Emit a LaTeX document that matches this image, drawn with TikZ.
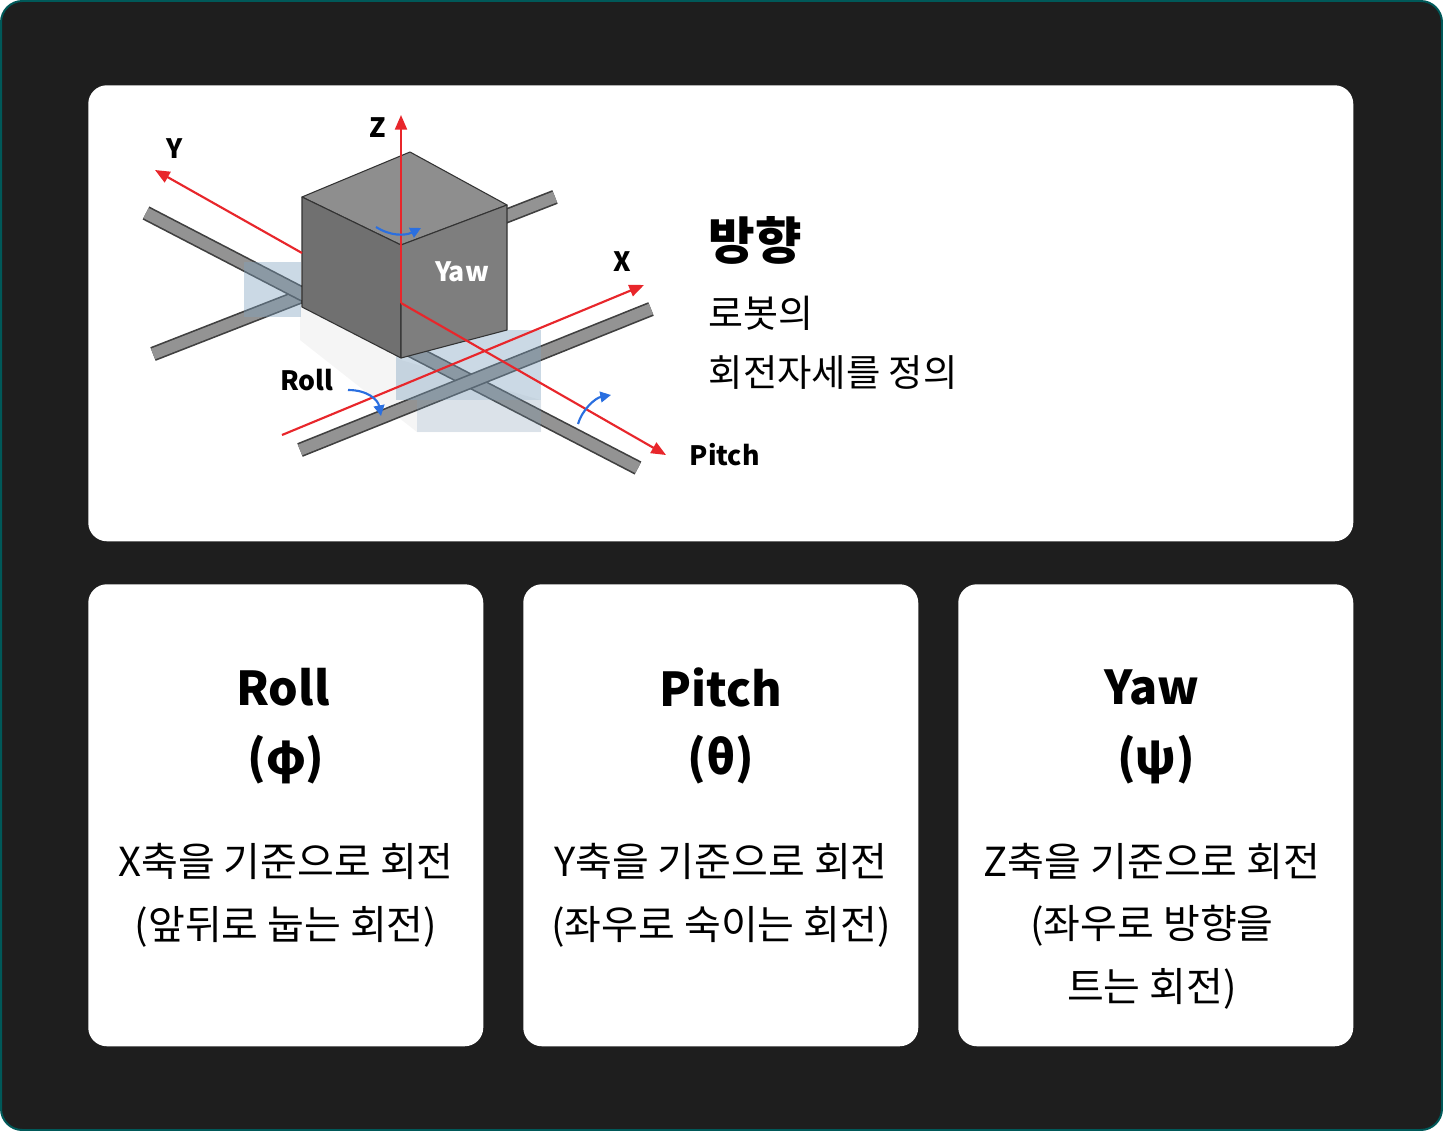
\documentclass[tikz,border=0pt]{standalone}
\usepackage{fontspec}
\setmainfont{Noto Sans CJK KR}
\usetikzlibrary{arrows.meta}
\definecolor{bgdark}{HTML}{1E1E1E}
\definecolor{axred}{HTML}{E8262B}
\definecolor{arblue}{HTML}{2A6FE0}
\definecolor{ctop}{HTML}{8E8E8E}
\definecolor{cleft}{HTML}{707070}
\definecolor{cright}{HTML}{7E7E7E}
\definecolor{shad}{HTML}{7FA2BF}
\tikzset{
 card/.style={fill=white,rounded corners=14pt},
 bar/.style={line width=11pt,line cap=butt,draw=black!75},
 barin/.style={line width=8.5pt,line cap=butt,draw=gray!85},
 axis/.style={draw=axred,line width=1.6pt,-{Triangle[length=11pt,width=9pt]}},
 rot/.style={draw=arblue,line width=1.6pt,-{Triangle[length=8pt,width=8pt]}},
 lbl/.style={font=\bfseries\fontsize{20}{24}\selectfont},
 ttl/.style={font=\bfseries\fontsize{35}{40}\selectfont},
 body/.style={font=\fontsize{30}{47}\selectfont,align=center},
}
\begin{document}
\begin{tikzpicture}[x=0.75pt,y=-0.75pt]
\useasboundingbox (0,0) rectangle (1443,1131);
\fill[draw=teal!70!black,line width=1.5pt,fill=bgdark,rounded corners=16pt] (1,1) rectangle (1442,1130);
\node[card,minimum width=1265*0.75pt,minimum height=456*0.75pt,anchor=north west] (top) at (88,85) {};
\node[card,minimum width=395*0.75pt,minimum height=462*0.75pt,anchor=north west] (c1) at (88,584) {};
\node[card,minimum width=395*0.75pt,minimum height=462*0.75pt,anchor=north west] (c2) at (523,584) {};
\node[card,minimum width=395*0.75pt,minimum height=462*0.75pt,anchor=north west] (c3) at (958,584) {};
% shadows
\fill[gray,opacity=0.08] (300,300) -- (401,360) -- (541,400) -- (541,432) -- (417,432) -- (300,340) -- cycle;
% bars
\draw[bar] (153,354) -- (555,197); \draw[barin] (153,354) -- (555,197);
\draw[bar] (146,213) -- (638,468); \draw[barin] (146,213) -- (638,468);
\draw[bar] (300,450) -- (651,309); \draw[barin] (300,450) -- (651,309);
\fill[shad,opacity=0.4] (244,262) rectangle (301,317);
\fill[shad,opacity=0.4] (396,330) rectangle (541,400);
\fill[shad,opacity=0.22] (417,400) rectangle (541,432);
% cube
\draw[black!80,line width=0.8pt,fill=ctop,line join=round] (302,197) -- (410,152) -- (507,205) -- (401,245) -- cycle;
\draw[black!80,line width=0.8pt,fill=cleft,line join=round] (302,197) -- (401,245) -- (401,358) -- (302,307) -- cycle;
\draw[black!80,line width=0.8pt,fill=cright,line join=round] (401,245) -- (507,205) -- (507,330) -- (401,358) -- cycle;
\node[font=\bfseries\fontsize{20}{22}\selectfont,text=white] (yaw) at (462,272) {Yaw};
% axes
\coordinate (o) at (401,303);
\coordinate (zt) at (401,115);
\coordinate (yt) at (155,170);
\coordinate (y0) at (302,253);
\coordinate (x0) at (282,435);
\coordinate (xt) at (644,285);
\coordinate (pt) at (666,455);
\draw[axis] (o) -- (zt);
\draw[axis] (y0) -- (yt);
\draw[axis] (x0) -- (xt);
\draw[axis] (o) -- (pt);
\node[lbl] (zl) at (378,128) {Z};
\node[lbl] (yl) at (175,149) {Y};
\node[lbl] (xl) at (622,262) {X};
\node[lbl,anchor=west] (pl) at (685,455) {Pitch};
\node[lbl] (rl) at (307,380) {Roll};
% rotation arrows
\coordinate (ya) at (376,227); \coordinate (yb) at (421,228);
\draw[rot] (ya) .. controls (390,236) and (405,236) .. (yb);
\coordinate (ra) at (348,390); \coordinate (rb) at (381,416);
\draw[rot] (ra) .. controls (368,390) and (378,400) .. (rb);
\coordinate (pa) at (578,424); \coordinate (pb) at (611,395);
\draw[rot] (pa) .. controls (582,410) and (595,398) .. (pb);
% right text
\node[anchor=west,font=\bfseries\fontsize{38}{42}\selectfont] (h) at (704,240) {방향};
\node[anchor=west,font=\fontsize{28.5}{32}\selectfont] (t1) at (704,313) {로봇의};
\node[anchor=west,font=\fontsize{28}{32}\selectfont] (t2) at (704,373) {회전자세를 정의};
% cards
\node[ttl] (r1) at (283,687) {Roll};
\node[ttl] (r2) at (286,760) {(φ)};
\node[body] (r3) at (286,895) {X축을 기준으로 회전\\(앞뒤로 눕는 회전)};
\node[ttl] (p1) at (721,687) {Pitch};
\node[ttl] (p2) at (721,760) {(θ)};
\node[body] (p3) at (721,895) {Y축을 기준으로 회전\\(좌우로 숙이는 회전)};
\node[ttl] (w1) at (1152,687) {Yaw};
\node[ttl] (w2) at (1156,760) {(ψ)};
\node[body] (w3) at (1152,926) {Z축을 기준으로 회전\\(좌우로 방향을\\트는 회전)};
\end{tikzpicture}
\end{document}
